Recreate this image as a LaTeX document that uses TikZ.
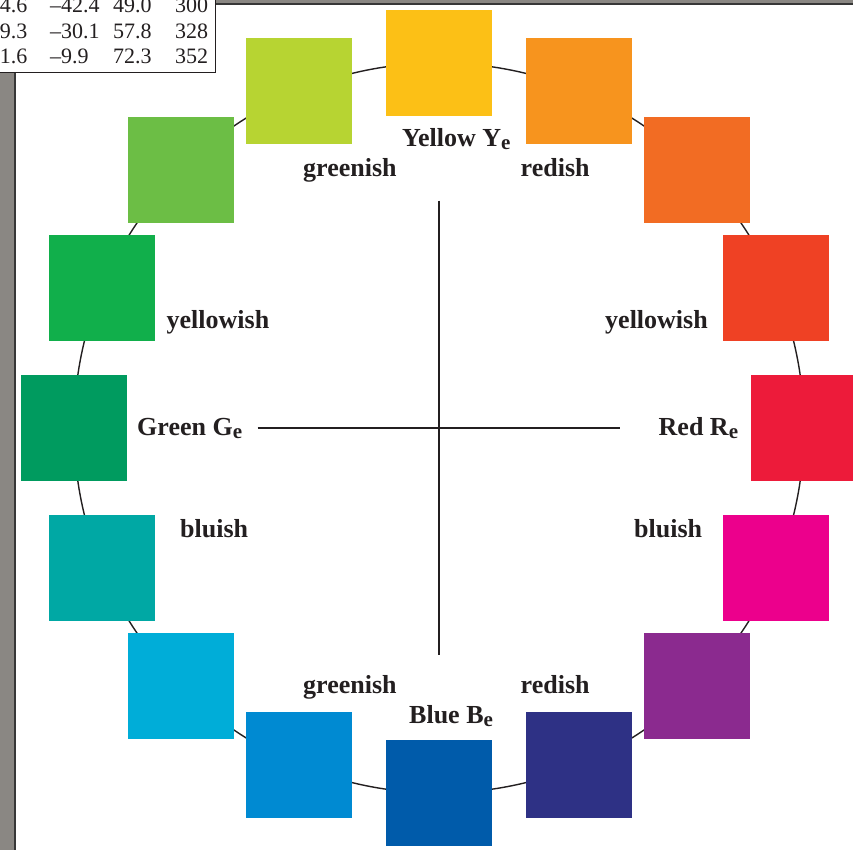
\documentclass[tikz,border=0pt]{standalone}
\usepackage{fontspec}
\setmainfont{Liberation Serif}
\usetikzlibrary{calc}
\definecolor{ink}{RGB}{35,31,32}
\definecolor{framegray}{RGB}{138,135,131}
\definecolor{framedark}{RGB}{55,55,55}
\definecolor{c0}{RGB}{252,192,22}
\definecolor{c1}{RGB}{247,148,30}
\definecolor{c2}{RGB}{242,108,35}
\definecolor{c3}{RGB}{239,65,36}
\definecolor{c4}{RGB}{237,27,58}
\definecolor{c5}{RGB}{236,0,140}
\definecolor{c6}{RGB}{139,42,143}
\definecolor{c7}{RGB}{46,49,133}
\definecolor{c8}{RGB}{0,91,170}
\definecolor{c9}{RGB}{0,138,210}
\definecolor{c10}{RGB}{0,173,216}
\definecolor{c11}{RGB}{0,168,164}
\definecolor{c12}{RGB}{0,155,95}
\definecolor{c13}{RGB}{17,175,75}
\definecolor{c14}{RGB}{108,190,69}
\definecolor{c15}{RGB}{183,212,50}
\newcommand\subE{\raisebox{-3pt}{\fontsize{21}{21}\selectfont e}}
\begin{document}
\begin{tikzpicture}[x=1pt,y=-1pt,
  swatch/.style={minimum size=106pt, inner sep=0pt, outer sep=0pt, draw=none},
  lab/.style={anchor=base west, inner sep=0pt, text=ink, font=\fontsize{26}{30}\selectfont\bfseries},
  tab/.style={inner sep=0pt, text=ink, font=\fontsize{22}{26}\selectfont},
  axis/.style={draw=ink, line width=1.6pt}]
\clip (0,0) rectangle (853,850);
\fill[white] (0,0) rectangle (853,850);
% frame bars
\fill[framegray] (200,0) rectangle (853,3.4);
\fill[framedark] (200,3.4) rectangle (853,5);
\fill[framegray] (0,60) rectangle (14,850);
\fill[framedark] (14,60) rectangle (16,850);
% table box
\filldraw[fill=white, draw=ink, line width=0.8pt] (-10,-10) rectangle (215.5,72);
\foreach \a/\b/\c/\d/\y [count=\i] in {4.6/42.4/49.0/300/13, 9.3/30.1/57.8/328/38.5, 1.6/9.9/72.3/352/64}{
  \node[tab, anchor=base east] (ta\i) at (27.5,\y) {\a};
  \node[tab, anchor=base west] (tb\i) at (50,\y) {–\b};
  \node[tab, anchor=base west] (tc\i) at (113,\y) {\c};
  \node[tab, anchor=base west] (td\i) at (175,\y) {\d};
}
% circle
\coordinate (ctr) at (439,428);
\draw[ink, line width=1.4pt] (ctr) circle [radius=365];
% swatches
\foreach \k in {0,...,15}{
  \node[swatch, fill=c\k] (sq\k) at ($(ctr)+({365*sin(22.5*\k)},{-365*cos(22.5*\k)})$) {};
}
% axes
\coordinate (vt) at (439,200.7);
\coordinate (vb) at (439,654.5);
\coordinate (hl) at (257.5,427.7);
\coordinate (hr) at (620,427.7);
\draw[axis] (vt) -- (vb);
\draw[axis] (hl) -- (hr);
% labels
\node[lab] (ye) at (402,147) {Yellow Y\subE};
\node[lab] (gt) at (303,177) {greenish};
\node[lab] (rt) at (520.5,177) {redish};
\node[lab] (yl) at (166.5,328.5) {yellowish};
\node[lab] (yr) at (605,328.5) {yellowish};
\node[lab] (gr) at (137,435) {Green G\subE};
\node[lab] (rd) at (658.5,435) {Red R\subE};
\node[lab] (bl) at (180,537) {bluish};
\node[lab] (br) at (634,537) {bluish};
\node[lab] (gb) at (303,693) {greenish};
\node[lab] (rb) at (520.5,693) {redish};
\node[lab] (be) at (409,723) {Blue B\subE};
\end{tikzpicture}
\end{document}
